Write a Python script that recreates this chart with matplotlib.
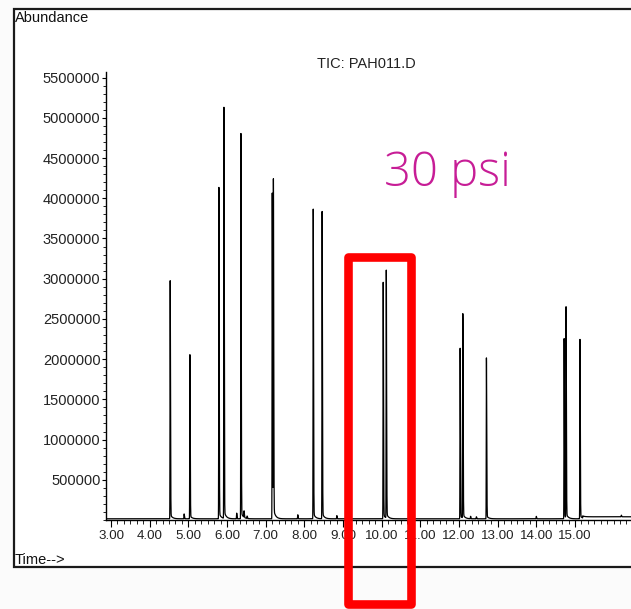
import numpy as np
import matplotlib.pyplot as plt
from matplotlib.patches import Rectangle
from matplotlib.ticker import MultipleLocator, FuncFormatter

plt.rcParams['font.family'] = ['Liberation Sans', 'DejaVu Sans']

# Peaks (retention time in min, abundance)
peak_times = [4.53, 4.89, 5.04, 5.79, 5.92, 6.25, 6.36, 6.44, 6.52, 7.17, 7.20,
              7.83, 8.23, 8.46, 8.84, 10.04, 10.12, 12.03, 12.10, 12.30, 12.45,
              12.71, 14.00, 14.72, 14.77, 15.13, 16.20]
peak_heights = [2960000, 60000, 2040000, 4120000, 5110000, 70000, 4790000, 80000,
                30000, 4050000, 4180000, 50000, 3850000, 3820000, 40000, 2940000,
                3080000, 2120000, 2540000, 30000, 25000, 2000000, 30000, 2240000,
                2620000, 2230000, 20000]

# baseline level (step changes)
base_from = [2.87, 15.20]
base_level = [15000, 40000]

y_ticks = [500000, 1000000, 1500000, 2000000, 2500000, 3000000,
           3500000, 4000000, 4500000, 5000000, 5500000]
x_ticks = [3, 4, 5, 6, 7, 8, 9, 10, 11, 12, 13, 14, 15]

# build the trace from the peak list
t = np.arange(2.87, 16.5, 0.0004)
signal = np.zeros_like(t)
for i in range(len(base_from)):
    signal[t >= base_from[i]] = base_level[i]
for rt, h in zip(peak_times, peak_heights):
    d = t - rt
    sig = np.where(d < 0, 0.004, 0.008)  # slight tailing
    signal += h * np.exp(-0.5 * (d / sig) ** 2)
    # small exponential tail after the apex (zero at the apex itself)
    dp = np.clip(d, 0, None)
    signal += np.where(d > 0, 0.02 * h * (1 - np.exp(-dp / 0.006)) * np.exp(-dp / 0.05), 0)

fig = plt.figure(figsize=(6.31, 6.09), dpi=100, facecolor='#fbfbfb')

# outer frame of the instrument printout
fig.patches.append(Rectangle((14 / 631, (609 - 567) / 609), 0.99, (567 - 9) / 609,
                             transform=fig.transFigure, facecolor='white',
                             edgecolor='#1a1a1a', lw=1.6, zorder=-5))

ax = fig.add_axes([106 / 631, (609 - 520) / 609, (631 - 106) / 631, (520 - 72) / 609])
ax.set_zorder(2)
ax.set_facecolor('none')
ax.plot(t, signal, color='black', lw=0.9)

ax.set_xlim(2.87, 16.45)
ax.set_ylim(0, 5570000)
ax.spines['top'].set_visible(False)
ax.spines['right'].set_visible(False)
ax.spines['left'].set_linewidth(1.0)
ax.spines['bottom'].set_linewidth(1.0)

ax.set_yticks(y_ticks)
ax.yaxis.set_minor_locator(MultipleLocator(100000))
ax.set_xticks(x_ticks)
ax.xaxis.set_minor_locator(MultipleLocator(1 / 6))
ax.xaxis.set_major_formatter(FuncFormatter(lambda v, p: '%.2f' % v))
ax.yaxis.set_major_formatter(FuncFormatter(lambda v, p: '%d' % v))
ax.tick_params(axis='y', which='major', length=3, width=0.8, pad=1, labelsize=10.5)
ax.tick_params(axis='y', which='minor', length=2, width=0.6)
ax.tick_params(axis='x', which='major', length=5, width=0.8, pad=2, labelsize=9.6)
ax.tick_params(axis='x', which='minor', length=3, width=0.6)
for lab in ax.get_xticklabels() + ax.get_yticklabels():
    lab.set_color('#222222')

fig.text(15 / 631, 1 - 18 / 609, 'Abundance', fontsize=10.5, va='center', ha='left', color='#111111')
fig.text(15 / 631, 1 - 560 / 609, 'Time-->', fontsize=10.5, va='center', ha='left', color='#111111')
fig.text(366 / 631, 1 - 64 / 609, 'TIC: PAH011.D', fontsize=10.5, va='center', ha='center', color='#222222')
fig.text(384 / 631, 1 - 186 / 609, '30 psi', fontsize=34, ha='left', va='baseline',
         color='#c71d96', family=['Open Sans', 'DejaVu Sans'], fontweight='light')

# red highlight box
fig.patches.append(Rectangle((347.5 / 631, (609 - 604) / 609), (411 - 347.5) / 631,
                             (604 - 257) / 609, transform=fig.transFigure,
                             fill=False, edgecolor='#ff0000', lw=6.2, zorder=5,
                             joinstyle='round'))

fig.savefig('out.png', dpi=100, facecolor=fig.get_facecolor())
